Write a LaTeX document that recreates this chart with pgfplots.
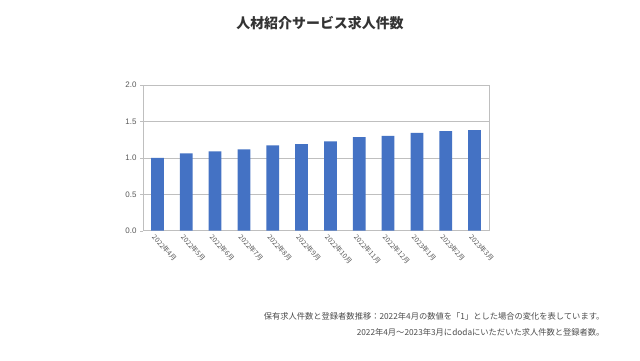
\documentclass[border=0pt]{standalone}
\usepackage{pgfplots}
\pgfplotsset{compat=1.18}
\usepackage{fontspec}
\setmainfont{Liberation Sans}
\newfontfamily\cjk{Noto Sans CJK JP}
\definecolor{barblue}{HTML}{4472C4}
\definecolor{gridgray}{HTML}{BFBFBF}
\definecolor{txtgray}{HTML}{595959}
\begin{document}
\begin{tikzpicture}[x=1bp,y=1bp]
\useasboundingbox (0,0) rectangle (640,360);
\fill[white] (0,0) rectangle (640,360);
\begin{axis}[
  at={(143bp,129.3bp)}, anchor=south west,
  scale only axis, width=346bp, height=145.7bp,
  xmin=-0.5, xmax=11.5, ymin=0, ymax=2,
  ytick={0,0.5,1,1.5,2},
  yticklabel style={/pgf/number format/fixed,/pgf/number format/fixed zerofill,/pgf/number format/precision=1, font=\fontsize{8}{9}\selectfont, text=txtgray},
  /pgf/number format/assume math mode=true,
  xtick=data,
  xticklabels={2022年4月,2022年5月,2022年6月,2022年7月,2022年8月,2022年9月,2022年10月,2022年11月,2022年12月,2023年1月,2023年2月,2023年3月},
  xticklabel style={font=\cjk\fontsize{6.8}{7}\selectfont, text=txtgray, rotate=-48, anchor=north west, inner sep=1pt, xshift=-2bp},
  major tick length=3bp,
  tick style={gridgray},
  xtick style={draw=none},
  extra x ticks={-0.5,0.5,1.5,2.5,3.5,4.5,5.5,6.5,7.5,8.5,9.5,10.5,11.5},
  extra x tick labels={},
  extra x tick style={grid=none, tick style={draw=gridgray}, major tick length=3bp, tick align=outside},
  tick align=outside,
  ytick pos=left, xtick pos=bottom,
  ymajorgrids, grid style={gridgray, line width=0.6pt},
  axis line style={gridgray, line width=0.6pt},
  clip=false,
]
\addplot[ybar, bar width=12.7bp, fill=barblue, draw=none] coordinates {
 (0,1.00) (1,1.06) (2,1.09) (3,1.115) (4,1.17) (5,1.19) (6,1.225) (7,1.284) (8,1.30) (9,1.344) (10,1.367) (11,1.38)
};
\end{axis}
\node[font=\cjk\bfseries\fontsize{14}{16}\selectfont, text=black!80] at (320,337) {人材紹介サービス求人件数};
\node[font=\cjk\fontsize{8.3}{10}\selectfont, text=black!70, anchor=east] at (608,44) {保有求人件数と登録者数推移：2022年4月の数値を「1」とした場合の変化を表しています。};
\node[font=\cjk\fontsize{8.3}{10}\selectfont, text=black!70, anchor=east] at (608,28) {2022年4月〜2023年3月にdodaにいただいた求人件数と登録者数。};
\end{tikzpicture}
\end{document}
